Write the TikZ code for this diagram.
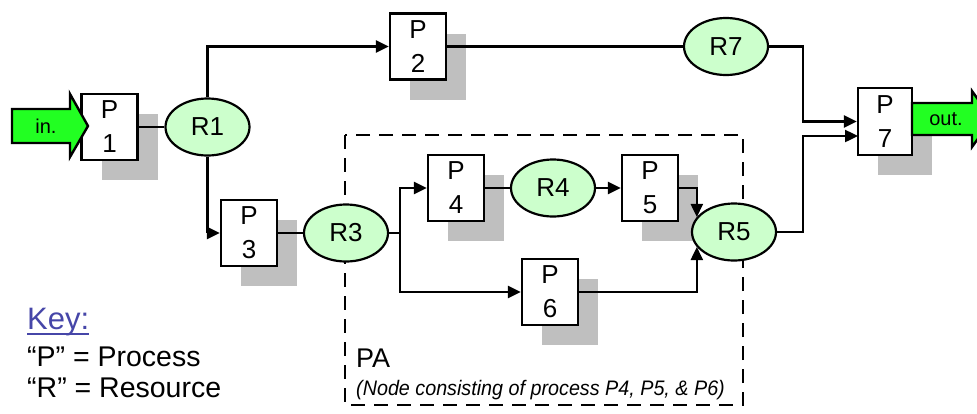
\documentclass[tikz,border=0pt]{standalone}
\usepackage{fontspec}
\setmainfont{Liberation Sans}
\usetikzlibrary{arrows.meta,shadows,shapes.geometric}
\definecolor{shadowgray}{HTML}{BFBFBF}
\definecolor{resgreen}{HTML}{CCFFCC}
\definecolor{flowgreen}{HTML}{22FF22}
\definecolor{keyblue}{HTML}{4646A8}
\tikzset{
  pbox/.style={draw, line width=2.4pt, fill=white, minimum width=56pt, minimum height=66pt,
    inner sep=0pt, align=center, font=\fontsize{26}{34}\selectfont,
    general shadow={fill=shadowgray, draw=none, shadow xshift=20pt, shadow yshift=-20pt}},
  res/.style={ellipse, draw, line width=2.2pt, fill=resgreen, minimum width=84pt, minimum height=57pt,
    inner sep=0pt, font=\fontsize{26}{30}\selectfont},
  conn/.style={line width=2.4pt},
  arr/.style={conn, -{Triangle[length=13pt,width=12pt]}},
  fatarrow/.style={draw, line width=2.4pt, fill=flowgreen, line join=miter},
  flowlabel/.style={inner sep=0pt, font=\fontsize{20}{20}\selectfont},
  keytext/.style={anchor=base west, inner sep=0pt, font=\fontsize{28.5}{28.5}\selectfont},
  groupbox/.style={draw, line width=2.6pt, dash pattern=on 14pt off 9pt},
}
\begin{document}
\begin{tikzpicture}[x=1pt,y=-1pt]
\useasboundingbox (0,0) rectangle (977,413);
\clip (0,0) rectangle (977,413);
% group PA
\draw[groupbox] (345,135) rectangle (743,405);
% nodes
\node[pbox] (P1) at (109.5,127) {P\\1};
\node[res]  (R1) at (207.5,127) {R1};
\node[pbox] (P2) at (418,46.5) {P\\2};
\node[res]  (R7) at (726,46.5) {R7};
\node[pbox] (P3) at (249,233) {P\\3};
\node[res]  (R3) at (346,233) {R3};
\node[pbox] (P4) at (456,188) {P\\4};
\node[res]  (R4) at (553,188) {R4};
\node[pbox] (P5) at (650,188) {P\\5};
\node[pbox] (P6) at (550,292) {P\\6};
\node[res]  (R5) at (734,232) {R5};
\node[pbox, minimum width=54pt, minimum height=67pt] (P7) at (885,121.5) {P\\7};
% junction coordinates
\coordinate (jx) at (803,0);
\coordinate (jb) at (400,0);
\coordinate (P7b) at (858,136);
% connectors
\draw[conn] (P1.east) -- (R1.west);
\draw[arr] (R1.north) |- (P2.west);
\draw[arr] (R1.south) |- (P3.west);
\draw[conn] (P2.east) -- (R7.west);
\draw[arr] (R7.east) -| (jx |- P7.west) -- (P7.west);
\draw[arr] (R5.east) -| (jx |- P7b) -- (P7b);
\draw[conn] (P3.east) -- (R3.west);
\draw[arr] (R3.east) -- (jb |- R3.east) |- (P4.west);
\draw[arr] (R3.east) -- (jb |- R3.east) |- (P6.west);
\draw[conn] (P4.east) -- (R4.west);
\draw[arr] (R4.east) -- (P5.west);
\draw[arr] (P5.east) -| (R5.158);
\draw[arr] (P6.east) -| (R5.202);
% in / out arrows
\path[fatarrow] (12,109) -- (70,109) -- (70,94) -- (88,126) -- (70,157) -- (70,143) -- (12,143) -- cycle;
\node[flowlabel] (in) at (46,126) {in.};
\path[fatarrow] (912,103) -- (972,103) -- (972,91) -- (992,119) -- (972,147) -- (972,135) -- (912,135) -- cycle;
\node[flowlabel] (out) at (946,119) {out.};
% texts
\node[anchor=base west, inner sep=0pt, font=\fontsize{27}{27}\selectfont] (pa) at (356,367) {PA};
\node[anchor=base west, inner sep=0pt, font=\fontsize{21}{21}\selectfont] (padesc) at (356,395)
  {\scalebox{0.94}[1]{\itshape (Node consisting of process P4, P5, \& P6)}};
\node[anchor=base west, inner sep=0pt, font=\fontsize{31}{31}\selectfont, text=keyblue] (key) at (27,329) {Key:};
\draw[keyblue, line width=2pt] ([yshift=-5pt]key.base west) -- ([yshift=-5pt]key.base east);
\node[keytext] (kp) at (27,366) {“P” = Process};
\node[keytext] (kr) at (27,397) {“R” = Resource};
\end{tikzpicture}
\end{document}
